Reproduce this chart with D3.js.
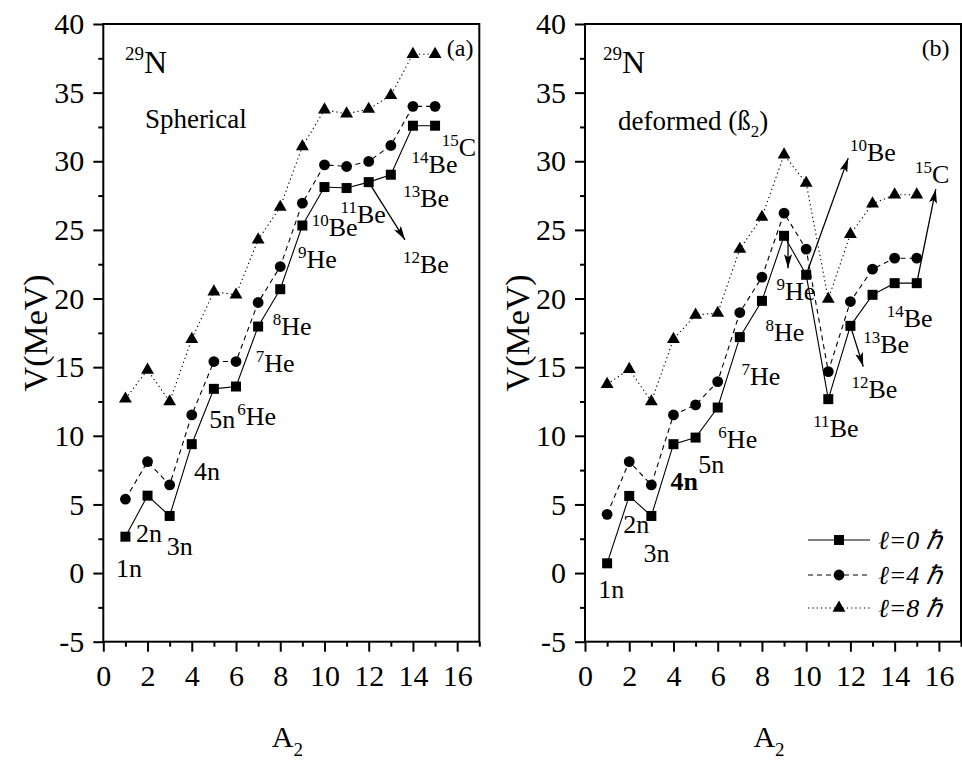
<!DOCTYPE html>
<html>
<head>
<meta charset="utf-8">
<script src="https://cdn.jsdelivr.net/npm/d3@7"></script>
<style>
  body { margin: 0; background: #fff; }
  svg { display: block; }
  text { font-family: "Liberation Serif", "Times New Roman", serif; fill: #000; }
</style>
</head>
<body>
<svg id="chart" width="962" height="762"></svg>
<script>
// Mass number of the emitted cluster (A2)
const massNumbers = d3.range(1, 16);

// Barrier height V (MeV) for 29N, spherical nuclei
const sphericalL0 = [2.65, 5.64, 4.16, 9.39, 13.42, 13.59, 17.96, 20.68, 25.32, 28.12, 28.05, 28.48, 29.02, 32.59, 32.59];
const sphericalL4 = [5.38, 8.12, 6.42, 11.52, 15.41, 15.41, 19.71, 22.33, 26.95, 29.74, 29.62, 29.99, 31.15, 34.0, 34.0];
const sphericalL8 = [12.69, 14.8, 12.49, 17.04, 20.5, 20.27, 24.28, 26.66, 31.08, 33.75, 33.46, 33.8, 34.8, 37.8, 37.8];

// Barrier height V (MeV) for 29N, deformed (beta2) nuclei
const deformedL0 = [0.71, 5.62, 4.16, 9.39, 9.87, 12.06, 17.19, 19.83, 24.57, 21.73, 12.67, 18.01, 20.27, 21.12, 21.12];
const deformedL4 = [4.28, 8.12, 6.42, 11.52, 12.25, 13.95, 18.98, 21.56, 26.22, 23.6, 14.68, 19.78, 22.14, 22.94, 22.94];
const deformedL8 = [13.76, 14.85, 12.49, 17.04, 18.8, 18.94, 23.6, 25.93, 30.47, 28.41, 19.96, 24.69, 26.9, 27.56, 27.56];

// Axis ticks
const xMajorTicks = [0, 2, 4, 6, 8, 10, 12, 14, 16];
const xMinorTicks = [1, 3, 5, 7, 9, 11, 13, 15, 17];
const yMajorTicks = [-5, 0, 5, 10, 15, 20, 25, 30, 35, 40];
const yMinorTicks = [-2.5, 2.5, 7.5, 12.5, 17.5, 22.5, 27.5, 32.5, 37.5];

// Series legend entries
const seriesNames = ["\u2113=0 \u210F", "\u2113=4 \u210F", "\u2113=8 \u210F"];

// Cluster annotations: parts starting with ^ are superscripts, _ are subscripts
const sphericalLabels = [
  { a: 0.98, v: 36.4, parts: ["^29", "N"], size: 32, supSize: 19 },
  { a: 1.88, v: 32.45, parts: ["Spherical"], size: 27 },
  { a: 15.53, v: 37.64, parts: ["(a)"], size: 24 },
  { a: 15.3, v: 30.35, parts: ["^15", "C"] },
  { a: 13.94, v: 29.14, parts: ["^14", "Be"] },
  { a: 13.56, v: 26.7, parts: ["^13", "Be"] },
  { a: 10.73, v: 25.5, parts: ["^11", "Be"] },
  { a: 9.42, v: 24.52, parts: ["^10", "Be"] },
  { a: 8.8, v: 22.22, parts: ["^9", "He"] },
  { a: 13.55, v: 21.85, parts: ["^12", "Be"] },
  { a: 7.66, v: 17.35, parts: ["^8", "He"] },
  { a: 6.89, v: 14.68, parts: ["^7", "He"] },
  { a: 4.79, v: 10.55, parts: ["5n"] },
  { a: 6.06, v: 10.79, parts: ["^6", "He"] },
  { a: 4.1, v: 6.79, parts: ["4n"] },
  { a: 1.48, v: 2.29, parts: ["2n"] },
  { a: 2.87, v: 1.32, parts: ["3n"] },
  { a: 0.57, v: -0.26, parts: ["1n"] }
];
const deformedLabels = [
  { a: 0.81, v: 36.4, parts: ["^29", "N"], size: 32, supSize: 19 },
  { a: 15.22, v: 37.64, parts: ["(b)"], size: 24 },
  { a: 1.49, v: 32.3, parts: ["deformed (\u00DF", "_2", ")"], size: 27 },
  { a: 11.98, v: 29.99, parts: ["^10", "Be"] },
  { a: 14.92, v: 28.41, parts: ["^15", "C"] },
  { a: 8.66, v: 19.9, parts: ["^9", "He"] },
  { a: 13.64, v: 17.96, parts: ["^14", "Be"] },
  { a: 12.58, v: 16.02, parts: ["^13", "Be"] },
  { a: 12.05, v: 12.74, parts: ["^12", "Be"] },
  { a: 10.32, v: 9.94, parts: ["^11", "Be"] },
  { a: 8.16, v: 16.87, parts: ["^8", "He"] },
  { a: 7.08, v: 13.71, parts: ["^7", "He"] },
  { a: 6.03, v: 9.1, parts: ["^6", "He"] },
  { a: 5.12, v: 7.32, parts: ["5n"] },
  { a: 3.87, v: 6.06, parts: ["4n"], bold: true },
  { a: 1.73, v: 2.9, parts: ["2n"] },
  { a: 2.64, v: 0.83, parts: ["3n"] },
  { a: 0.6, v: -1.84, parts: ["1n"] }
];

// Arrows pointing to cluster names: [fromA, fromV, toA, toV]
const sphericalArrows = [[12, 28.48, 13.64, 24.28]];
const deformedArrows = [
  [9.18, 24.4, 9.18, 22.2],
  [10, 21.73, 11.9, 30.23],
  [15, 21.12, 15.86, 27.97],
  [12, 18.01, 12.58, 15.04]
];

const serif = '"Liberation Serif", "Times New Roman", serif';
const svg = d3.select("#chart");

svg.append("defs").append("marker")
  .attr("id", "arrowhead")
  .attr("viewBox", "0 0 14 8")
  .attr("refX", 14).attr("refY", 4)
  .attr("markerWidth", 14).attr("markerHeight", 8)
  .attr("markerUnits", "userSpaceOnUse")
  .attr("orient", "auto")
  .append("path").attr("d", "M0,0 L14,4 L0,8 L3,4 Z").attr("fill", "#000");

const plotTop = 24, plotBottom = 641.7;
const styles = [
  { dash: null, marker: "square" },
  { dash: "5,4", marker: "circle" },
  { dash: "1.3,3", marker: "triangle" }
];
// Tick labels use a plain hyphen for negative numbers
const tickFmt = d => String(d);

function drawMarker(g, kind, cx, cy) {
  if (kind === "square") {
    g.append("rect").attr("x", cx - 5).attr("y", cy - 5).attr("width", 10).attr("height", 10).attr("fill", "#000");
  } else if (kind === "circle") {
    g.append("circle").attr("cx", cx).attr("cy", cy).attr("r", 5.4).attr("fill", "#000");
  } else {
    g.append("path").attr("d", d3.symbol(d3.symbolTriangle, 72)()).attr("transform", `translate(${cx},${cy})`).attr("fill", "#000");
  }
}

function drawLabel(g, x, y, d) {
  const size = d.size || 26;
  const small = d.supSize || 17;
  const rise = d.supSize ? 13 : 10;
  const t = g.append("text").attr("x", x(d.a)).attr("y", y(d.v))
    .attr("font-family", serif)
    .style("font-size", size + "px")
    .style("font-weight", d.bold ? "bold" : null);
  let shift = 0;
  d.parts.forEach(p => {
    let target = 0, fs = size, txt = p;
    if (p[0] === "^") { target = -rise; fs = small; txt = p.slice(1); }
    else if (p[0] === "_") { target = 7; fs = small; txt = p.slice(1); }
    t.append("tspan").text(txt).attr("dy", target - shift).style("font-size", fs + "px");
    shift = target;
  });
}

function drawPanel(left, series, labels, arrows, showLegend) {
  const right = left + 376;
  const x = d3.scaleLinear().domain([0, 17]).range([left, right]);
  const y = d3.scaleLinear().domain([-5, 40]).range([plotBottom, plotTop]);
  const g = svg.append("g");

  // Axes with outward ticks
  g.append("g").attr("transform", `translate(${left},0)`)
    .call(d3.axisLeft(y).tickValues(yMajorTicks).tickSize(10).tickPadding(9).tickFormat(tickFmt));
  g.append("g").attr("transform", `translate(${left},0)`)
    .call(d3.axisLeft(y).tickValues(yMinorTicks).tickSize(5).tickFormat(""));
  g.append("g").attr("transform", `translate(0,${plotBottom})`)
    .call(d3.axisBottom(x).tickValues(xMajorTicks).tickSize(10).tickPadding(13).tickFormat(tickFmt));
  g.append("g").attr("transform", `translate(0,${plotBottom})`)
    .call(d3.axisBottom(x).tickValues(xMinorTicks).tickSize(5).tickFormat(""));
  g.selectAll(".domain").remove();
  g.selectAll("g").attr("font-family", serif);
  g.selectAll(".tick line").attr("stroke", "#000").attr("stroke-width", 2);
  g.selectAll(".tick text").attr("font-family", serif).style("font-family", serif)
    .style("font-size", "30px").attr("fill", "#000");

  g.append("rect").attr("x", left).attr("y", plotTop).attr("width", right - left).attr("height", plotBottom - plotTop)
    .attr("fill", "none").attr("stroke", "#000").attr("stroke-width", 2);

  // Axis titles
  g.append("text").attr("transform", `translate(${left - 56},${(plotTop + plotBottom) / 2}) rotate(-90)`)
    .attr("text-anchor", "middle").attr("font-family", serif).style("font-size", "34px").text("V(MeV)");
  const xt = g.append("text").attr("x", (left + right) / 2 - 4).attr("y", 747)
    .attr("text-anchor", "middle").attr("font-family", serif).style("font-size", "30px");
  xt.append("tspan").text("A");
  xt.append("tspan").text("2").attr("dy", 9).style("font-size", "19px");

  // Series lines and markers
  const line = d3.line().x((d, i) => x(massNumbers[i])).y(d => y(d));
  series.forEach((vals, k) => {
    g.append("path").datum(vals).attr("d", line).attr("fill", "none")
      .attr("stroke", "#000").attr("stroke-width", 1.1)
      .attr("stroke-dasharray", styles[k].dash);
  });
  series.forEach((vals, k) => {
    vals.forEach((v, i) => drawMarker(g, styles[k].marker, x(massNumbers[i]), y(v)));
  });

  // Arrows
  arrows.forEach(a => {
    g.append("line").attr("x1", x(a[0])).attr("y1", y(a[1])).attr("x2", x(a[2])).attr("y2", y(a[3]))
      .attr("stroke", "#000").attr("stroke-width", 1.3).attr("marker-end", "url(#arrowhead)");
  });

  labels.forEach(d => drawLabel(g, x, y, d));

  if (showLegend) {
    const rows = [540, 575, 608];
    rows.forEach((ry, k) => {
      g.append("line").attr("x1", 808).attr("x2", 870).attr("y1", ry).attr("y2", ry)
        .attr("stroke", "#000").attr("stroke-width", 1.1).attr("stroke-dasharray", styles[k].dash);
      drawMarker(g, styles[k].marker, 839, ry);
      g.append("text").attr("x", 878).attr("y", ry + 9).attr("font-family", serif)
        .style("font-size", "26px").style("font-style", "italic")
        .text(seriesNames[k]);
    });
  }
}

drawPanel(103.3, [sphericalL0, sphericalL4, sphericalL8], sphericalLabels, sphericalArrows, false);
drawPanel(585, [deformedL0, deformedL4, deformedL8], deformedLabels, deformedArrows, true);
</script>
</body>
</html>
